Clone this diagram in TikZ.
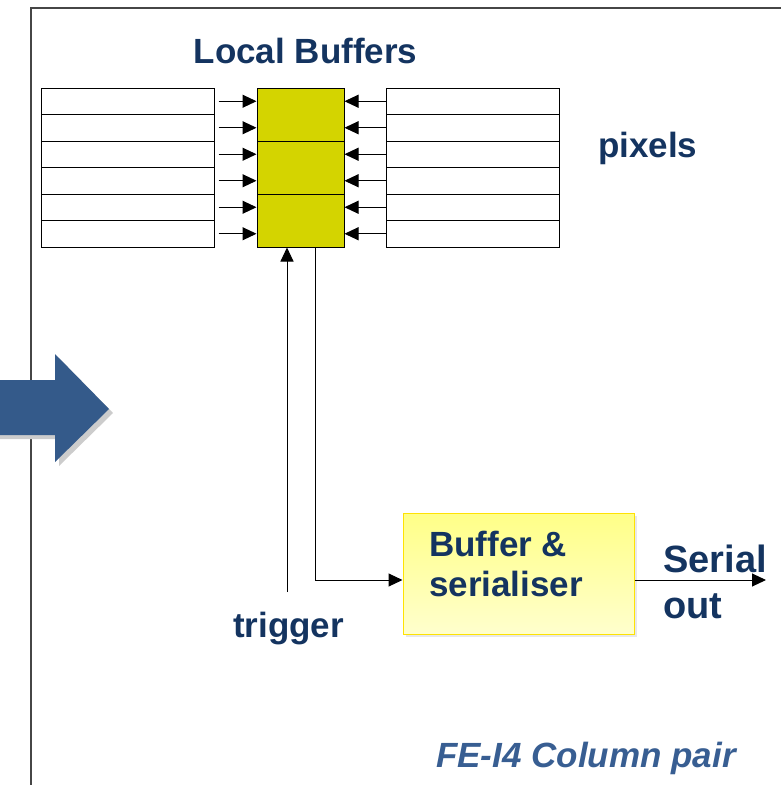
\documentclass[tikz,border=0pt]{standalone}
\usepackage{fontspec}
\setmainfont{Liberation Sans}
\usetikzlibrary{arrows.meta,shadows}
\definecolor{txtblue}{RGB}{20,52,96}
\definecolor{capblue}{RGB}{56,94,146}
\definecolor{arrblue}{RGB}{52,90,138}
\definecolor{bufyellow}{RGB}{212,212,0}
\definecolor{framegray}{RGB}{70,70,70}
\tikzset{
  pixrow/.style = {draw, line width=1pt, fill=white, minimum width=173pt, minimum height=26.5pt, inner sep=0pt},
  bufcell/.style = {draw, line width=1pt, fill=bufyellow, minimum width=87pt, minimum height=53pt, inner sep=0pt},
  lbl/.style = {text=txtblue, font=\bfseries\fontsize{35}{40}\selectfont, inner sep=0pt},
  conn/.style = {line width=1pt, -{Triangle[length=14pt, width=13pt]}}
}
\begin{document}
\begin{tikzpicture}[x=1pt, y=-1pt]
\useasboundingbox (0,0) rectangle (780,785);
% column pair frame
\draw[line width=1.5pt, framegray] (31,790) -- (31,8) -- (790,8);
% big arrow coming in from the left
\fill[gray!40] (0,384) -- (59,384) -- (59,358) -- (113,413) -- (59,466) -- (59,439) -- (0,439) -- cycle;
\fill[arrblue] (0,380) -- (55,380) -- (55,354) -- (109,409) -- (55,462) -- (55,435) -- (0,435) -- cycle;
% pixels and local buffers
\foreach \i in {0,...,5} {
  \node[pixrow] (pl\i) at (127.5, 101.25+26.5*\i) {};
  \node[pixrow] (pr\i) at (472.5, 101.25+26.5*\i) {};
}
\foreach \j in {0,1,2}
  \node[bufcell] (lb\j) at (300.5, 114.5+53*\j) {};
\foreach \i in {0,...,5} {
  \draw[conn, shorten <=4pt] (pl\i.east) -- (pl\i.east -| lb0.west);
  \draw[conn] (pr\i.west) -- (pr\i.west -| lb0.east);
}
\node[lbl, anchor=base] (title) at (305.5,63) {Local Buffers};
\node[lbl, anchor=base west] (pix) at (598,157) {pixels};
% buffer and serialiser
\node[draw=yellow!85!orange, line width=1pt, top color={rgb,255:red,255;green,255;blue,135}, bottom color={rgb,255:red,255;green,255;blue,205},
  drop shadow={shadow xshift=3pt, shadow yshift=-3pt, fill=gray!35},
  minimum width=231pt, minimum height=121pt] (ser) at (518.5,573.5) {};
\node[lbl, anchor=north west, align=left] (sertxt) at (429,531) {Buffer \&\\serialiser};
\coordinate (trig) at (287,592);
\draw[conn] (trig) -- (trig |- lb2.south);
\node[lbl, anchor=base west] (trg) at (233,637) {trigger};
\draw[conn] ([xshift=14.5pt]lb2.south) |- ([yshift=-6.5pt]ser.west);
\coordinate (sout) at (766,580);
\draw[conn] ([yshift=-6.5pt]ser.east) -- (sout);
\node[lbl, anchor=north west, align=left, font=\bfseries\fontsize{38}{46}\selectfont] (serout) at (663,545) {Serial\\out};
\node[anchor=base west, inner sep=0pt, text=capblue, font=\bfseries\itshape\fontsize{35}{40}\selectfont] (cap) at (436,767) {FE-I4 Column pair};
\end{tikzpicture}
\end{document}
